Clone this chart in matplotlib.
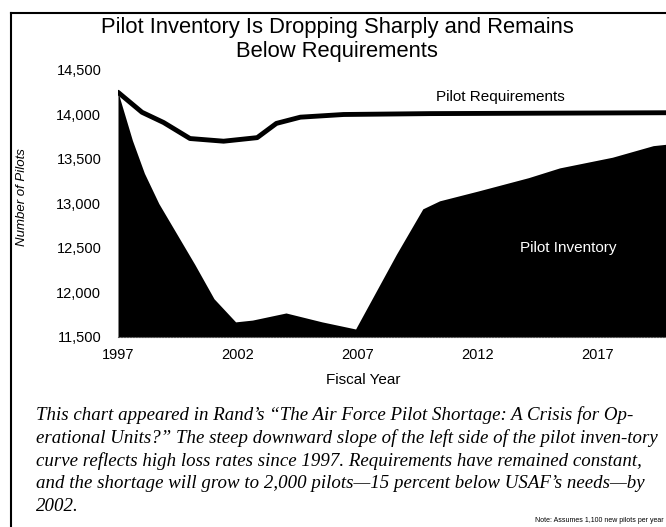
import matplotlib.pyplot as plt
from matplotlib.lines import Line2D

# values
req_years = [1997, 1998, 1998.9, 2000, 2001.4, 2002.8, 2003.6, 2004.6, 2006.4, 2010, 2015, 2020]
req_pilots = [14250, 14025, 13910, 13730, 13700, 13740, 13900, 13970, 14000, 14010, 14015, 14020]

inv_years = [1997, 1997.6, 1998.1, 1998.7, 2000.2, 2001, 2001.9, 2002.6, 2004, 2005.5, 2006.9,
             2008.6, 2009.7, 2010.4, 2012, 2014.1, 2015.4, 2017.6, 2019.3, 2020]
inv_pilots = [14250, 13710, 13340, 13000, 12315, 11930, 11670, 11690, 11770, 11670, 11590,
              12430, 12940, 13030, 13140, 13290, 13400, 13520, 13650, 13670]

year_ticks = [1997, 2002, 2007, 2012, 2017]
pilot_ticks = [11500, 12000, 12500, 13000, 13500, 14000, 14500]

caption = [
    "This chart appeared in Rand\u2019s \u201cThe Air Force Pilot Shortage: A Crisis for Op-",
    "erational Units?\u201d The steep downward slope of the left side of the pilot inven-tory",
    "curve reflects high loss rates since 1997. Requirements have remained constant,",
    "and the shortage will grow to 2,000 pilots\u201415 percent below USAF\u2019s needs\u2014by",
    "2002.",
]

W, H = 666, 527
fig = plt.figure(figsize=(W / 100, H / 100), dpi=100)
plt.rcParams['font.family'] = ['Liberation Sans', 'DejaVu Sans']

ax = fig.add_axes([118 / W, 1 - 337 / H, 1 - 118 / W, (337 - 70) / H])
ax.fill_between(inv_years, 11500, inv_pilots, color='black', lw=0)
ax.plot(req_years, req_pilots, color='black', lw=3.5, solid_capstyle='round')

ax.set_xlim(1997, 1997 + (W - 118) / 24)
ax.set_ylim(11500, 14500)
ax.set_xticks(year_ticks)
ax.set_yticks(pilot_ticks)
ax.set_yticklabels([f"{v:,}" for v in pilot_ticks])
ax.tick_params(length=0, labelsize=10.5)
ax.tick_params(axis='y', pad=12)
ax.tick_params(axis='x', pad=8)
for s in ['top', 'right', 'left']:
    ax.spines[s].set_visible(False)
ax.spines['bottom'].set_linestyle(':')
ax.spines['bottom'].set_color('#555555')
ax.spines['bottom'].set_linewidth(0.8)

fig.text(500 / W, 1 - 97 / H, 'Pilot Requirements', ha='center', va='center', fontsize=11)
fig.text(568 / W, 1 - 248 / H, 'Pilot Inventory', ha='center', va='center', fontsize=11, color='white')

fig.text(337 / W, 1 - 27 / H, 'Pilot Inventory Is Dropping Sharply and Remains',
         ha='center', va='center', fontsize=15.8)
fig.text(337 / W, 1 - 52 / H, 'Below Requirements', ha='center', va='center', fontsize=15.8)

fig.text(22 / W, 1 - 197 / H, 'Number of Pilots', rotation=90, style='italic',
         ha='center', va='center', fontsize=9.5)
fig.text(363 / W, 1 - 380 / H, 'Fiscal Year', ha='center', va='center', fontsize=11)

for i, line in enumerate(caption):
    fig.text(36 / W, 1 - (415 + i * 22.8) / H, line, ha='left', va='center',
             fontsize=13.6, style='italic', family='Liberation Serif')

fig.text(535 / W, 1 - 521 / H, 'Note: Assumes 1,100 new pilots per year',
         ha='left', va='center', fontsize=5)

# frame lines of the scanned page
fig.add_artist(Line2D([11 / W, 11 / W], [0, 1 - 13 / H], color='black', lw=1.5))
fig.add_artist(Line2D([11 / W, 1], [1 - 13 / H, 1 - 13 / H], color='black', lw=1.5))

fig.savefig('out.png', dpi=100)
